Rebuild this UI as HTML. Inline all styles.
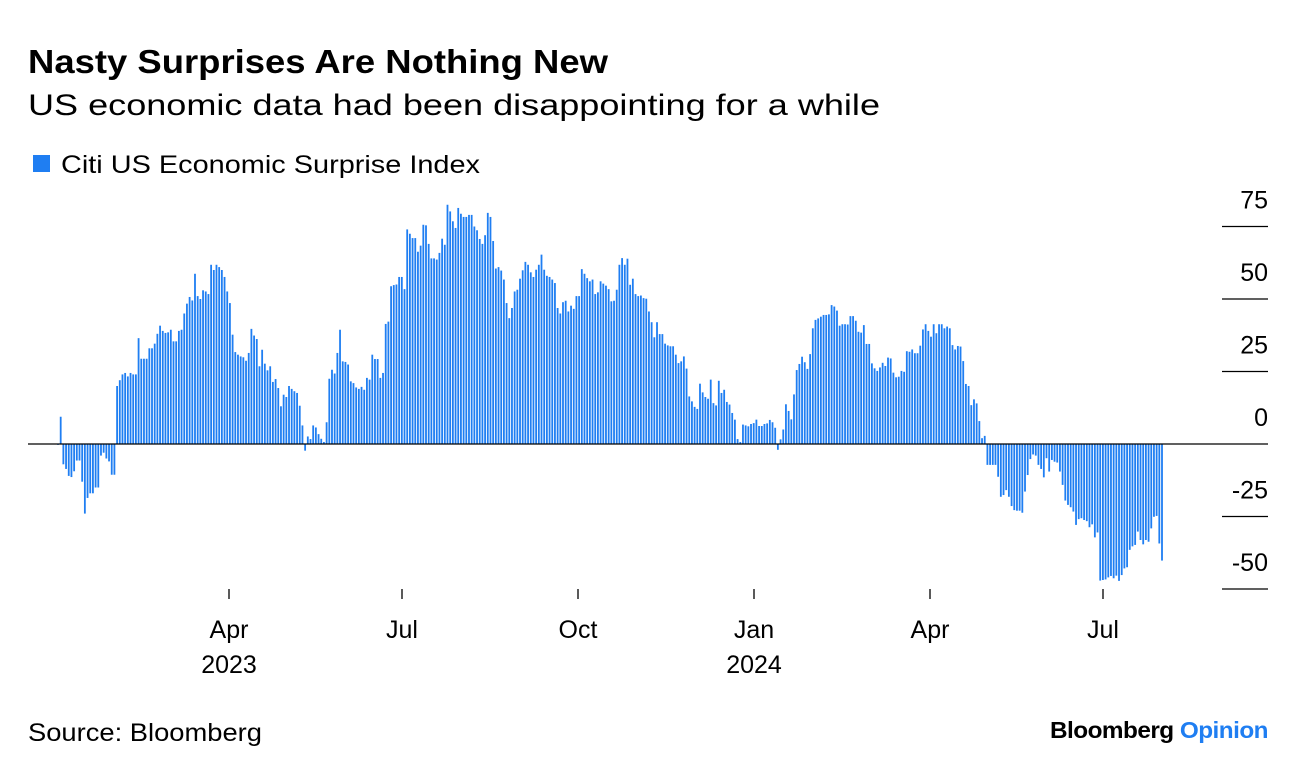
<!DOCTYPE html>
<html><head><meta charset="utf-8">
<style>
body{margin:0;background:#fff;width:1296px;height:774px;overflow:hidden;font-family:"Liberation Sans",Arial,sans-serif;color:#000}
svg text{font-family:"Liberation Sans",Arial,sans-serif}
</style></head>
<body>
<svg id="chart" width="1296" height="774" viewBox="0 0 1296 774" xmlns="http://www.w3.org/2000/svg">
<text x="28" y="73" font-size="33" font-weight="bold" textLength="580" lengthAdjust="spacingAndGlyphs">Nasty Surprises Are Nothing New</text>
<text x="28" y="115" font-size="30" textLength="852" lengthAdjust="spacingAndGlyphs">US economic data had been disappointing for a while</text>
<rect x="33" y="155" width="17" height="17" fill="#1f7ef2"/>
<text x="61" y="173" font-size="25" textLength="419" lengthAdjust="spacingAndGlyphs">Citi US Economic Surprise Index</text>
<g id="bars"></g>
<g id="yaxis"></g>
<g id="xaxis"></g>
<text x="28" y="741" font-size="25" textLength="234" lengthAdjust="spacingAndGlyphs">Source: Bloomberg</text>
<text x="1268" y="738" font-size="23" font-weight="bold" text-anchor="end" letter-spacing="-0.5" textLength="218" lengthAdjust="spacingAndGlyphs">Bloomberg <tspan fill="#1f7ef2">Opinion</tspan></text>
</svg>
<script>
const values = [-0.3,9.4,-7,-8.6,-11,-11.4,-9.4,-5.7,-5.7,-13,-24,-18.6,-17,-17,-15,-15,-4,-3,-5,-6,-10.6,-10.6,
20,22,24,24.5,23.3,24.5,24,24,36.5,29.4,29.4,29.4,33,33,34.6,38,40.8,39,38.3,38.5,39.4,35.4,35.4,39,39.4,45,48.4,50.7,49.5,58.7,51,50,53,52.6,51.7,61.8,60,61.8,61,60,57.6,52.6,48.6,37.7,31.7,30.8,30.2,29.9,28.7,31.4,39.7,37.4,36.2,26.8,32.5,27.7,25.4,26.8,21.4,22.4,19.3,13,17,16.2,20,19,18.2,17.6,13.2,6.4,-2.3,2.6,1.7,6.4,5.7,3.4,1.8,0.7,7.5,22.5,25.6,24.3,31.4,39.4,28.5,28.3,27.4,21.6,21,19.5,19,19.7,18.7,22.8,22.2,30.8,29.3,29.3,22.8,24.5,41.4,42.2,54.4,54.8,
55,57.6,57.6,53.4,74,72.5,71,71,66.3,68.4,75.6,75.4,69,64,64,63.6,65.9,70.8,68.7,82.5,80.2,76.8,74.5,81.4,79.4,78.3,78.3,79,79,75,73.7,70.7,69,72,79.7,78.3,70,60.5,61,59.8,56.7,48.6,43.4,46.9,52.6,53.2,57,59.9,62.8,61.8,59.2,57.6,60.1,61.8,65.3,60.1,58,57.6,56.7,55.5,46.9,45,48.9,49.4,45.7,47.7,46.6,51,51,60.3,58.7,57.2,56.1,56.7,51.7,52.3,56.1,55.3,54.6,53.4,49.2,49.4,53.2,61.8,64.1,61.8,63.9,54.9,57,51.7,51,51.2,50.3,50.1,45.7,42,36.8,42,37.9,37.9,34.6,34,33.7,33.7,30.8,27.9,28.5,30.2,26,16.4,14.7,12.8,12.1,20.8,17.8,16.2,15.6,22.2,14.1,13.3,21.8,17.6,18.7,14.5,13.6,10.7,8.4,1.7,0.7,6.7,6.4,6.1,6.9,7.2,8.4,
6.2,6.2,6.9,7.1,8.3,7.5,5.6,-2,1.6,5,13.7,11.4,8.5,17.1,25.5,27.6,30.1,28.2,25.9,31,39.9,42.8,43.3,43.9,44.5,44.5,44.7,47.9,47.4,46,40.8,41.3,41.3,41.2,44.1,44.1,42.5,38.7,38.4,41,34.5,34.5,27.8,26.1,25.2,26.4,28,26.9,29.8,29.5,24.6,23,23.2,25.2,24.9,32,31.8,32.6,31.3,31.3,33.9,39.5,41.3,39,37,41.3,38.2,41.3,41.3,39.9,40.5,39.9,34.1,32.6,33.8,33.6,28.6,20.7,20,13.4,15.4,14,7.9,2,2.8,
-7.2,-7.2,-7.2,-7.2,-11.3,-18.2,-17.6,-15.9,-18.2,-21.4,-22.8,-23,-23,-23.7,-16.4,-10.7,-5.2,-3.6,-4,-7.2,-8.6,-11.5,-4.9,-9.5,-5.5,-6.1,-6.4,-9.5,-14.1,-19.5,-21,-21.8,-23.3,-27.9,-25.9,-25.6,-26.2,-26.6,-28.7,-27.7,-32.2,-30.5,-47.1,-46.9,-46.7,-46,-45.5,-46.3,-45.4,-47.2,-45.2,-42.9,-42.5,-36.5,-35.3,-34.8,-30.2,-33.1,-34.6,-33.1,-33.7,-29.1,-25.1,-24.8,-34.3,-40.2];
const yTicks = [75,50,25,0,-25,-50];
const xTickMonths = ["Apr","Jul","Oct","Jan","Apr","Jul"];
const xTickYears = ["2023","","","2024","",""];

const NS='http://www.w3.org/2000/svg';
const y = v => 444 - v*2.9;
const x0=58, x1=1162;
const x = i => x0 + i*(x1-x0)/(values.length-1);
const barsG=document.getElementById('bars');
values.forEach((v,i)=>{
  const r=document.createElementNS(NS,'rect');
  
  
  const top=Math.min(y(v),y(0)), h=Math.abs(y(v)-y(0));
  r.setAttribute('x',(x(i)-0.9).toFixed(2));
  r.setAttribute('y',top.toFixed(2));
  r.setAttribute('width','1.8');
  r.setAttribute('height',Math.max(h,0.5).toFixed(2));
  r.setAttribute('fill','#1f7ef2');
  barsG.appendChild(r);
});
const ya=document.getElementById('yaxis');
yTicks.forEach(t=>{
  const l=document.createElementNS(NS,'line');
  
  
  l.setAttribute('x1',1222);l.setAttribute('x2',1268);
  l.setAttribute('y1',y(t));l.setAttribute('y2',y(t));
  l.setAttribute('stroke','#000');l.setAttribute('stroke-width','1.3');
  ya.appendChild(l);
  const tx=document.createElementNS(NS,'text');
  
  
  tx.setAttribute('x',1268);tx.setAttribute('y',y(t)-18);
  tx.setAttribute('text-anchor','end');tx.setAttribute('font-size','25');
  tx.textContent=t;
  ya.appendChild(tx);
});
const zl=document.createElementNS(NS,'line');


zl.setAttribute('x1',28);zl.setAttribute('x2',1222);
zl.setAttribute('y1',y(0));zl.setAttribute('y2',y(0));
zl.setAttribute('stroke','#000');zl.setAttribute('stroke-width','1.3');
ya.appendChild(zl);
const xa=document.getElementById('xaxis');
const tickPx=[229,402,578,754,930,1103];
xTickMonths.forEach((m,k)=>{
  const px=tickPx[k];
  const l=document.createElementNS(NS,'line');
  
  
  l.setAttribute('x1',px);l.setAttribute('x2',px);
  l.setAttribute('y1',589);l.setAttribute('y2',599);
  l.setAttribute('stroke','#000');l.setAttribute('stroke-width','1.3');
  xa.appendChild(l);
  const t=document.createElementNS(NS,'text');
  
  
  t.setAttribute('x',px);t.setAttribute('y',638);
  t.setAttribute('text-anchor','middle');t.setAttribute('font-size','25');
  t.textContent=m;
  xa.appendChild(t);
  if(xTickYears[k]){
    const t2=document.createElementNS(NS,'text');
    
    
    t2.setAttribute('x',px);t2.setAttribute('y',673);
    t2.setAttribute('text-anchor','middle');t2.setAttribute('font-size','25');
    t2.textContent=xTickYears[k];
    xa.appendChild(t2);
  }
});
</script>
</body></html>
